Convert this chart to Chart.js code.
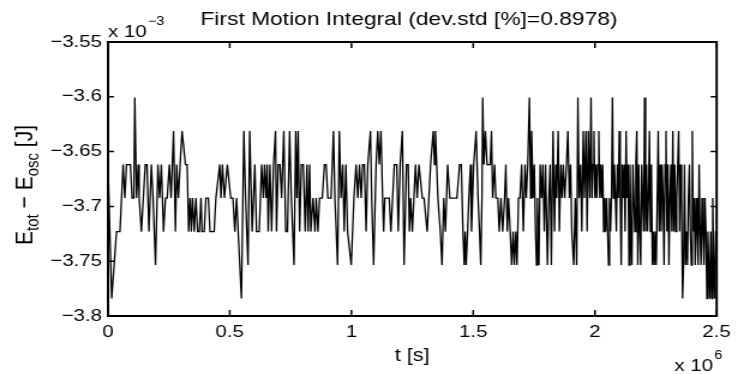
<!DOCTYPE html>
<html>
<head>
<meta charset="utf-8">
<script src="https://cdn.jsdelivr.net/npm/chart.js@4.4.1/dist/chart.umd.min.js"></script>
<style>
  html, body { margin: 0; padding: 0; background: #fff; overflow: hidden; }
  /* the reference figure is stretched sideways, so the canvas is too */
  #wrap { width: 615px; height: 374px; transform: scaleX(1.2); transform-origin: 0 0; }
</style>
</head>
<body>
<div id="wrap"><canvas id="motionChart" width="615" height="374"></canvas></div>
<script>
// sample times, in units of 10^6 s
const tMega = [
  0.000, 0.015, 0.035, 0.049, 0.062, 0.069, 0.076, 0.092, 0.099, 0.106,
  0.110, 0.117, 0.124, 0.128, 0.137, 0.153, 0.160, 0.168, 0.178, 0.185,
  0.195, 0.205, 0.212, 0.219, 0.228, 0.236, 0.243, 0.252, 0.259, 0.269,
  0.277, 0.282, 0.289, 0.296, 0.304, 0.318, 0.325, 0.331, 0.337, 0.342,
  0.347, 0.354, 0.361, 0.368, 0.375, 0.382, 0.386, 0.395, 0.402, 0.412,
  0.419, 0.436, 0.443, 0.459, 0.464, 0.470, 0.478, 0.490, 0.504, 0.513,
  0.521, 0.528, 0.548, 0.558, 0.565, 0.575, 0.582, 0.592, 0.603, 0.610,
  0.621,
  0.631, 0.638, 0.643, 0.649, 0.654, 0.658, 0.665, 0.672, 0.680, 0.688,
  0.692, 0.699, 0.706, 0.713, 0.722, 0.730, 0.737, 0.746, 0.753, 0.764,
  0.771, 0.776, 0.781, 0.787, 0.794, 0.802, 0.810, 0.817, 0.822, 0.828,
  0.833, 0.842, 0.850, 0.855, 0.862, 0.869, 0.880, 0.889, 0.896, 0.903,
  0.916, 0.926, 0.932, 0.943, 0.950, 0.957, 0.964, 0.970, 0.977, 0.984,
  0.999, 1.010, 1.019, 1.026, 1.033, 1.040, 1.046, 1.053, 1.060, 1.067,
  1.078, 1.083, 1.091, 1.101, 1.108, 1.114, 1.121, 1.128, 1.132, 1.137,
  1.155, 1.162, 1.176, 1.186, 1.192, 1.200, 1.209, 1.216, 1.226, 1.233,
  1.238, 1.243, 1.250, 1.263, 1.270, 1.277, 1.291, 1.298, 1.311, 1.325,
  1.336, 1.341, 1.345, 1.355, 1.365, 1.372, 1.379, 1.386, 1.395, 1.404,
  1.433, 1.444, 1.451, 1.458, 1.463, 1.467, 1.471, 1.477, 1.482,
  1.489, 1.493, 1.502, 1.512, 1.520, 1.526, 1.531, 1.536, 1.539, 1.544,
  1.550, 1.557, 1.570, 1.575, 1.580, 1.588, 1.593, 1.601, 1.607, 1.614,
  1.621, 1.629, 1.634, 1.640, 1.645, 1.652, 1.658, 1.664, 1.669, 1.675,
  1.680, 1.686, 1.692, 1.699, 1.706, 1.713, 1.718, 1.724, 1.731, 1.736,
  1.740, 1.746, 1.751, 1.756, 1.760, 1.764, 1.770, 1.775, 1.781, 1.786,
  1.792, 1.797, 1.805, 1.811, 1.816, 1.821, 1.828, 1.834, 1.839, 1.843,
  1.849, 1.854, 1.860, 1.865, 1.870, 1.876, 1.883, 1.889, 1.895, 1.900,
  1.905, 1.913, 1.919, 1.925, 1.930, 1.935, 1.941, 1.946, 1.952, 1.957,
  1.963, 1.968, 1.973, 1.979,
  1.984, 1.988, 1.992, 1.996, 2.000, 2.004, 2.008, 2.012, 2.016, 2.020,
  2.024, 2.028, 2.032, 2.036, 2.040, 2.044, 2.048, 2.052, 2.056, 2.060,
  2.064, 2.068, 2.072, 2.076, 2.080, 2.084, 2.088, 2.092, 2.096, 2.100,
  2.104, 2.108, 2.112, 2.116, 2.120, 2.124, 2.128, 2.132, 2.136, 2.140,
  2.144, 2.148, 2.152, 2.156, 2.160, 2.164, 2.168, 2.172, 2.176, 2.180,
  2.184, 2.188, 2.192, 2.196, 2.200, 2.204, 2.208, 2.212, 2.216, 2.220,
  2.224, 2.228, 2.232, 2.236, 2.240, 2.244, 2.248, 2.252, 2.256, 2.260,
  2.264, 2.268, 2.272, 2.276, 2.280, 2.284, 2.288, 2.292, 2.296, 2.300,
  2.304, 2.308, 2.312, 2.316, 2.320, 2.324, 2.328, 2.332, 2.336, 2.340,
  2.344, 2.348, 2.352, 2.356, 2.360, 2.364, 2.368, 2.372, 2.376, 2.380,
  2.384, 2.388, 2.392, 2.396, 2.400, 2.404, 2.408, 2.412, 2.416, 2.420,
  2.424, 2.428, 2.432, 2.436, 2.440, 2.444, 2.448, 2.452, 2.456, 2.460,
  2.464, 2.468, 2.472, 2.476, 2.480, 2.484, 2.488, 2.492, 2.496, 2.500
];

// E_tot - E_osc, in units of 10^-3 J (same order as tMega)
const energyMilli = [
  -3.6618, -3.7841, -3.7230, -3.7230, -3.6618, -3.6924, -3.6618, -3.6618, -3.6924, -3.6924,
  -3.6007, -3.6924, -3.6618, -3.6924, -3.7230, -3.6618, -3.6618, -3.7230, -3.6618, -3.6924,
  -3.7535, -3.6618, -3.6924, -3.6618, -3.7230, -3.6924, -3.6924, -3.6618, -3.6924, -3.6313,
  -3.7230, -3.6618, -3.6924, -3.6618, -3.6313, -3.6618, -3.6618, -3.7230, -3.6924, -3.7230,
  -3.6924, -3.7230, -3.6924, -3.7230, -3.7230, -3.6924, -3.7230, -3.7230, -3.6924, -3.6924,
  -3.7230, -3.7230, -3.6924, -3.6618, -3.6924, -3.6618, -3.6924, -3.6618, -3.6924, -3.6924,
  -3.7230, -3.6924, -3.7841, -3.6313, -3.6924, -3.7535, -3.6313, -3.7230, -3.6618, -3.7230,
  -3.7230,
  -3.6618, -3.6924, -3.6618, -3.6924, -3.6618, -3.7230, -3.6618, -3.7230, -3.6618, -3.6313,
  -3.7230, -3.6618, -3.6618, -3.6924, -3.6313, -3.7230, -3.7230, -3.6313, -3.6924, -3.7535,
  -3.6313, -3.6924, -3.6313, -3.7230, -3.6618, -3.6618, -3.7230, -3.6618, -3.7230, -3.6618,
  -3.7230, -3.6924, -3.7230, -3.6924, -3.7230, -3.6924, -3.6924, -3.6618, -3.6618, -3.6924,
  -3.6924, -3.6313, -3.6924, -3.7535, -3.6313, -3.6924, -3.6618, -3.7230, -3.6618, -3.7230,
  -3.7535, -3.6924, -3.6618, -3.6924, -3.6618, -3.6924, -3.6618, -3.6618, -3.7230, -3.6618,
  -3.6313, -3.6924, -3.7535, -3.6618, -3.6313, -3.6618, -3.6313, -3.6924, -3.7230, -3.6924,
  -3.6924, -3.7230, -3.6618, -3.6618, -3.7230, -3.6618, -3.6313, -3.7535, -3.6618, -3.6618,
  -3.7230, -3.6924, -3.7230, -3.6618, -3.6924, -3.6618, -3.6924, -3.6924, -3.7230, -3.6618,
  -3.6313, -3.6618, -3.6313, -3.6924, -3.7230, -3.7535, -3.6924, -3.7230, -3.6618, -3.6924,
  -3.6924, -3.6618, -3.6618, -3.7230, -3.7535, -3.7230, -3.7535, -3.7230, -3.6924,
  -3.6618, -3.7230, -3.6618, -3.6313, -3.6924, -3.7230, -3.7535, -3.6924, -3.6007, -3.6618,
  -3.6313, -3.6618, -3.6618, -3.6313, -3.6924, -3.6618, -3.6924, -3.6924, -3.7230, -3.6924,
  -3.7230, -3.6924, -3.6618, -3.7230, -3.6924, -3.7230, -3.7535, -3.7230, -3.7535, -3.7230,
  -3.7535, -3.6924, -3.6924, -3.6618, -3.7230, -3.6618, -3.6924, -3.6618, -3.6007, -3.6924,
  -3.6313, -3.6924, -3.6618, -3.7230, -3.7535, -3.6924, -3.7535, -3.6618, -3.6924, -3.6618,
  -3.7230, -3.6618, -3.7535, -3.6924, -3.6618, -3.7535, -3.6313, -3.7230, -3.6618, -3.6924,
  -3.6313, -3.7230, -3.6618, -3.6924, -3.6618, -3.6924, -3.6618, -3.6313, -3.6924, -3.6618,
  -3.7230, -3.7535, -3.6924, -3.7535, -3.6007, -3.6924, -3.6618, -3.7230, -3.6313, -3.6924,
  -3.6313, -3.7230, -3.6313, -3.6924,
  -3.6007, -3.6924, -3.6618, -3.6313, -3.6924, -3.6618, -3.6924, -3.6618, -3.6313, -3.6924,
  -3.6618, -3.6924, -3.6618, -3.7230, -3.6924, -3.7230, -3.6924, -3.7230, -3.7535, -3.6924,
  -3.7230, -3.6924, -3.6007, -3.6924, -3.6618, -3.6924, -3.7230, -3.6618, -3.6924, -3.6313,
  -3.6924, -3.7535, -3.6618, -3.6924, -3.6618, -3.7230, -3.6313, -3.6924, -3.6618, -3.7535,
  -3.6618, -3.7230, -3.7535, -3.6618, -3.6924, -3.7230, -3.6618, -3.6313, -3.7535, -3.6618,
  -3.7230, -3.7535, -3.6618, -3.6924, -3.7230, -3.6007, -3.7230, -3.6618, -3.7230, -3.6924,
  -3.6313, -3.7230, -3.6618, -3.7535, -3.7230, -3.7535, -3.7230, -3.7535, -3.6924, -3.6313,
  -3.7230, -3.6618, -3.7230, -3.6618, -3.6924, -3.7535, -3.6618, -3.6313, -3.7230, -3.6618,
  -3.7535, -3.6924, -3.6618, -3.7230, -3.6313, -3.7230, -3.6618, -3.7230, -3.6924, -3.6618,
  -3.6313, -3.7230, -3.6618, -3.6924, -3.7841, -3.7535, -3.6618, -3.7535, -3.7230, -3.7535,
  -3.6924, -3.6618, -3.7230, -3.7535, -3.6313, -3.7230, -3.6924, -3.7535, -3.6924, -3.7230,
  -3.7535, -3.6618, -3.7230, -3.7535, -3.6924, -3.7230, -3.7535, -3.6924, -3.7230, -3.7841,
  -3.7230, -3.7535, -3.7841, -3.7230, -3.7841, -3.6924, -3.7535, -3.7841, -3.7230, -3.7230
];

// axis ticks
const xTicks = [0, 0.5, 1, 1.5, 2, 2.5];
const yTicks = [-3.8, -3.75, -3.7, -3.65, -3.6, -3.55];

const titleText = 'First Motion Integral (dev.std [%]=0.8978)';
const fontName = '"Liberation Sans", Arial, Helvetica, sans-serif';

const points = tMega.map((t, i) => ({ x: t, y: energyMilli[i] }));

function font(size) {
    return size + 'px ' + fontName;
}

// MATLAB-ish box, inward ticks and the extra texts
const figurePlugin = {
    id: 'figure',
    afterDraw(chart) {
        const { ctx, chartArea: a, scales } = chart;
        const xs = scales.x, ys = scales.y;
        ctx.save();
        ctx.strokeStyle = '#000';
        ctx.fillStyle = '#000';

        // tick marks, pointing inside, on all four sides
        ctx.lineWidth = 1.5;
        ctx.beginPath();
        xTicks.forEach(v => {
            const px = xs.getPixelForValue(v);
            ctx.moveTo(px, a.bottom); ctx.lineTo(px, a.bottom - 6);
            ctx.moveTo(px, a.top); ctx.lineTo(px, a.top + 6);
        });
        yTicks.forEach(v => {
            const py = ys.getPixelForValue(v);
            ctx.moveTo(a.left, py); ctx.lineTo(a.left + 5, py);
            ctx.moveTo(a.right, py); ctx.lineTo(a.right - 5, py);
        });
        ctx.stroke();

        // box
        ctx.lineWidth = 2;
        ctx.strokeRect(a.left, a.top, a.right - a.left, a.bottom - a.top);

        // title
        ctx.textAlign = 'center';
        ctx.textBaseline = 'alphabetic';
        ctx.font = font(19);
        ctx.fillText(titleText, 340.8, 25);

        // exponent labels
        ctx.textAlign = 'left';
        ctx.font = font(17);
        ctx.fillText('x 10', a.left, 37);
        let w = ctx.measureText('x 10').width;
        ctx.font = font(12);
        ctx.fillText('\u22123', a.left + w + 1, 25);

        ctx.font = font(17);
        ctx.fillText('x 10', 562, 371);
        w = ctx.measureText('x 10').width;
        ctx.font = font(12);
        ctx.fillText('6', 562 + w + 1, 359);

        // x label
        ctx.textAlign = 'center';
        ctx.font = font(18);
        ctx.fillText('t [s]', (a.left + a.right) / 2, 361);

        // y label with subscripts, rotated
        const parts = [
            ['E', 21, 0], ['tot', 15, 5], [' \u2212 E', 21, 0], ['osc', 15, 5], [' [J]', 21, 0]
        ];
        ctx.translate(27, (a.top + a.bottom) / 2 + 6);
        ctx.rotate(-Math.PI / 2);
        let total = 0;
        parts.forEach(p => { ctx.font = font(p[1]); total += ctx.measureText(p[0]).width; });
        let cx = -total / 2;
        ctx.textAlign = 'left';
        parts.forEach(p => {
            ctx.font = font(p[1]);
            ctx.fillText(p[0], cx, p[2]);
            cx += ctx.measureText(p[0]).width;
        });
        ctx.restore();
    }
};

const ctx = document.getElementById('motionChart').getContext('2d');
new Chart(ctx, {
    type: 'scatter',
    data: {
        datasets: [{
            data: points,
            showLine: true,
            borderColor: '#000',
            borderWidth: 1.3,
            pointRadius: 0,
            tension: 0
        }]
    },
    options: {
        responsive: false,
        animation: false,
        devicePixelRatio: 1,
        layout: { padding: { top: 42, right: 13.3, bottom: 0, left: 0 } },
        plugins: {
            legend: { display: false },
            tooltip: { enabled: false }
        },
        scales: {
            x: {
                type: 'linear',
                min: 0,
                max: 2.5,
                afterBuildTicks: s => { s.ticks = xTicks.map(v => ({ value: v })); },
                afterFit: s => { s.height = 58; },
                ticks: {
                    color: '#000',
                    font: { family: fontName, size: 17 },
                    padding: 6,
                    maxRotation: 0,
                    autoSkip: false,
                    callback: v => String(v)
                },
                grid: { display: false, drawTicks: false },
                border: { display: false }
            },
            y: {
                type: 'linear',
                min: -3.8,
                max: -3.55,
                afterBuildTicks: s => { s.ticks = yTicks.map(v => ({ value: v })); },
                afterFit: s => { s.width = 90; },
                ticks: {
                    color: '#000',
                    font: { family: fontName, size: 17 },
                    padding: 5,
                    callback: v => '\u2212' + Math.abs(v).toFixed(2).replace(/0$/, '')
                },
                grid: { display: false, drawTicks: false },
                border: { display: false }
            }
        }
    },
    plugins: [figurePlugin]
});
</script>
</body>
</html>
